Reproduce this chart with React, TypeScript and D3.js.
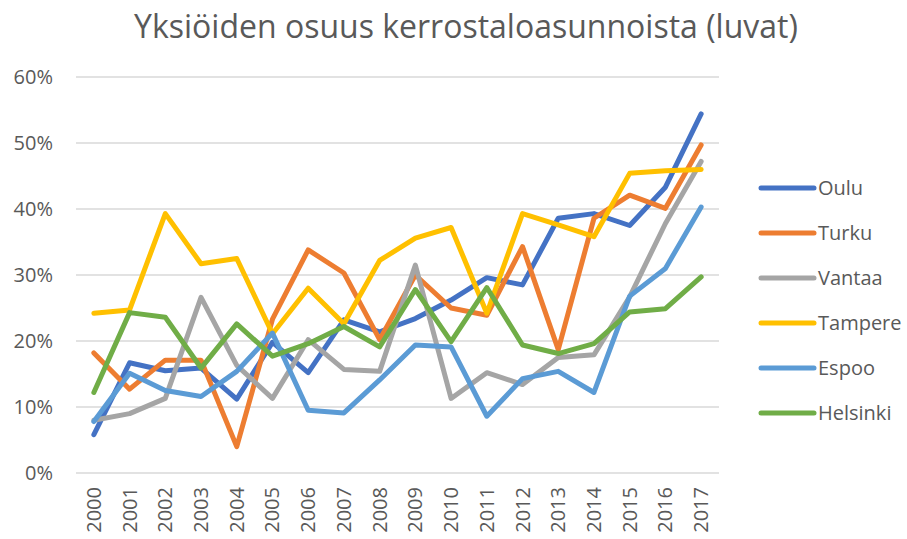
import React from "react";
import * as d3 from "d3";

const years = ["2000","2001","2002","2003","2004","2005","2006","2007","2008","2009","2010","2011","2012","2013","2014","2015","2016","2017"];
const oulu = [5.8,16.7,15.5,15.9,11.2,19.8,15.2,23.2,21.4,23.4,26.2,29.6,28.5,38.6,39.3,37.5,43.3,54.4];
const turku = [18.2,12.7,17.1,17.1,4.0,23.3,33.8,30.3,20.2,30.0,25.0,23.9,34.3,18.7,38.6,42.1,40.1,49.7];
const vantaa = [8.0,9.0,11.3,26.6,16.3,11.3,20.2,15.7,15.4,31.5,11.3,15.2,13.4,17.5,17.9,26.7,37.8,47.2];
const tampere = [24.2,24.7,39.3,31.7,32.5,21.1,28.0,22.6,32.2,35.6,37.2,24.2,39.3,37.6,35.8,45.4,45.8,46.0];
const espoo = [7.8,15.1,12.5,11.6,15.4,21.2,9.5,9.1,14.1,19.4,19.1,8.6,14.3,15.4,12.2,26.8,31.0,40.3];
const helsinki = [12.2,24.3,23.6,15.9,22.6,17.7,19.6,22.2,19.1,27.8,19.9,28.1,19.4,18.1,19.6,24.4,24.9,29.7];
const seriesNames = ["Oulu","Turku","Vantaa","Tampere","Espoo","Helsinki"];
const seriesValues = [oulu, turku, vantaa, tampere, espoo, helsinki];
const colors = ["#4472C4","#ED7D31","#A5A5A5","#FFC000","#5B9BD5","#70AD47"];
const yTicks = [0,10,20,30,40,50,60];
const title = "Yksiöiden osuus kerrostaloasunnoista (luvat)";

const W = 907, H = 539;
const left = 76, right = 719, top = 77, bottom = 473;
const FONT = "'Open Sans', sans-serif";
const GRAY = "#595959";

export default function App() {
  const x = d3.scaleBand<string>().domain(years).range([left, right]);
  const y = d3.scaleLinear().domain([0, 60]).range([bottom, top]);
  const line = d3.line<number>()
    .x((_, i) => (x(years[i]) as number) + x.bandwidth() / 2)
    .y((d) => y(d));
  return (
    <svg width={W} height={H} style={{ position: "absolute", left: 0, top: 0, background: "#fff" }}>
      <rect x={0} y={0} width={W} height={H} fill="#fff" />
      <text x={466} y={38} textAnchor="middle" fontFamily={FONT} fontSize={32} fill={GRAY}>{title}</text>
      {yTicks.map((t) => (
        <g key={t}>
          <line x1={left} x2={right} y1={y(t)} y2={y(t)} stroke="#D9D9D9" strokeWidth={1.5} />
          <text x={53} y={y(t)} dy="0.35em" textAnchor="end" fontFamily={FONT} fontSize={20} fill={GRAY}>{t}%</text>
        </g>
      ))}
      {years.map((yr) => {
        const cx = (x(yr) as number) + x.bandwidth() / 2;
        return (
          <text key={yr} transform={`translate(${cx},487) rotate(-90)`} dy="0.35em" textAnchor="end" fontFamily={FONT} fontSize={20} fill={GRAY}>{yr}</text>
        );
      })}
      {seriesValues.map((vals, i) => (
        <path key={seriesNames[i]} d={line(vals) as string} fill="none" stroke={colors[i]} strokeWidth={5} strokeLinecap="round" strokeLinejoin="round" />
      ))}
      {seriesNames.map((n, i) => {
        const ly = 188 + i * 45;
        return (
          <g key={n}>
            <line x1={761} x2={814} y1={ly} y2={ly} stroke={colors[i]} strokeWidth={5} strokeLinecap="round" />
            <text x={818} y={ly} dy="0.35em" fontFamily={FONT} fontSize={20} fill={GRAY}>{n}</text>
          </g>
        );
      })}
    </svg>
  );
}
